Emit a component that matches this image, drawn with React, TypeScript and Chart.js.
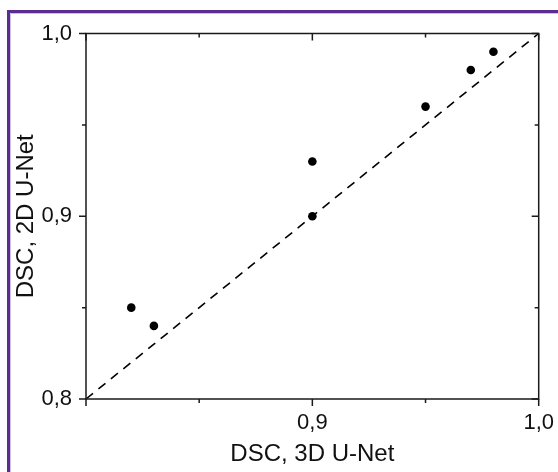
import React, { useEffect, useRef } from 'react';
import { Chart, registerables } from 'chart.js';

Chart.register(...registerables);

// Data
const xValues = [0.82, 0.83, 0.9, 0.9, 0.95, 0.97, 0.98]; // DSC, 3D U-Net
const yValues = [0.85, 0.84, 0.93, 0.9, 0.96, 0.98, 0.99]; // DSC, 2D U-Net
const identityLine = [0.8, 1.0];
const axisMin = 0.8;
const axisMax = 1.0;
const tickStep = 0.05;
const xTitle = 'DSC, 3D U-Net';
const yTitle = 'DSC, 2D U-Net';

const FONT = "'Liberation Sans', Arial, sans-serif";

const isMajor = (v: number) => Math.abs(v * 10 - Math.round(v * 10)) < 1e-6;
const fmt = (v: number) => (isMajor(v) ? v.toFixed(1).replace('.', ',') : '');

const framePlugin = {
  id: 'framePlugin',
  beforeDraw(chart: any) {
    const { ctx, width, height } = chart;
    ctx.save();
    ctx.fillStyle = '#ffffff';
    ctx.fillRect(0, 0, width, height);
    ctx.strokeStyle = '#5b2d8f';
    ctx.lineWidth = 3;
    ctx.beginPath();
    ctx.moveTo(8.5, height);
    ctx.lineTo(8.5, 11.5);
    ctx.lineTo(width, 11.5);
    ctx.stroke();
    ctx.strokeStyle = '#cdbfe0';
    ctx.lineWidth = 1;
    ctx.beginPath();
    ctx.moveTo(10.5, height);
    ctx.lineTo(10.5, 13.5);
    ctx.lineTo(width, 13.5);
    ctx.stroke();
    ctx.restore();
  },
  afterDraw(chart: any) {
    const { ctx, chartArea } = chart;
    const { left, right, top, bottom } = chartArea;
    const xs = chart.scales.x;
    const ys = chart.scales.y;
    ctx.save();
    ctx.strokeStyle = '#1a1a1a';
    ctx.lineWidth = 1.5;
    ctx.strokeRect(left, top, right - left, bottom - top);
    ctx.beginPath();
    xs.ticks.forEach((t: any) => {
      const px = xs.getPixelForValue(t.value);
      const major = isMajor(t.value);
      const len = major ? 7 : 4;
      ctx.moveTo(px, bottom);
      ctx.lineTo(px, bottom + len);
      ctx.moveTo(px, top);
      ctx.lineTo(px, top + len);
    });
    ys.ticks.forEach((t: any) => {
      const py = ys.getPixelForValue(t.value);
      const major = isMajor(t.value);
      const len = major ? 7 : 4;
      ctx.moveTo(left, py);
      ctx.lineTo(left - len, py);
      ctx.moveTo(right, py);
      ctx.lineTo(right - len, py);
    });
    ctx.stroke();
    ctx.restore();
  },
};

export default function App() {
  const ref = useRef<HTMLCanvasElement | null>(null);

  useEffect(() => {
    if (!ref.current) return;
    const points = xValues.map((x, i) => ({ x, y: yValues[i] }));
    const line = identityLine.map((v) => ({ x: v, y: v }));
    const chart = new Chart(ref.current, {
      type: 'scatter',
      data: {
        datasets: [
          {
            type: 'line',
            data: line,
            borderColor: '#000000',
            borderWidth: 1.6,
            borderDash: [9, 7],
            pointRadius: 0,
            fill: false,
            clip: false as any,
          },
          {
            type: 'scatter',
            data: points,
            backgroundColor: '#000000',
            borderColor: '#000000',
            pointRadius: 4.3,
            borderWidth: 0,
          },
        ],
      },
      options: {
        responsive: false,
        animation: false,
        layout: { padding: { left: 0, top: 33.5, right: 19.3, bottom: 0 } },
        plugins: { legend: { display: false }, tooltip: { enabled: false } },
        scales: {
          x: {
            type: 'linear',
            min: axisMin,
            max: axisMax,
            grid: { display: false, drawTicks: false },
            border: { display: false },
            ticks: {
              stepSize: tickStep,
              padding: 11,
              color: '#111111',
              font: { family: FONT, size: 22 },
              callback: (v: any) => (Number(v) <= axisMin + 1e-9 ? '' : fmt(Number(v))),
              autoSkip: false,
              maxRotation: 0,
            },
            title: {
              display: true,
              text: xTitle,
              color: '#111111',
              font: { family: FONT, size: 24 },
              padding: { top: 0, bottom: 3 },
            },
            afterFit: (s: any) => {
              s.height = 73;
              s.paddingLeft = 0;
              s.paddingRight = 0;
            },
          },
          y: {
            type: 'linear',
            min: axisMin,
            max: axisMax,
            grid: { display: false, drawTicks: false },
            border: { display: false },
            ticks: {
              stepSize: tickStep,
              padding: 14,
              color: '#111111',
              font: { family: FONT, size: 22 },
              callback: (v: any) => fmt(Number(v)),
              autoSkip: false,
            },
            title: {
              display: true,
              text: yTitle,
              color: '#111111',
              font: { family: FONT, size: 24 },
              padding: { top: 12, bottom: 0 },
            },
            afterFit: (s: any) => {
              s.width = 86;
              s.paddingTop = 0;
              s.paddingBottom = 0;
            },
          },
        },
      },
      plugins: [framePlugin],
    });
    return () => chart.destroy();
  }, []);

  return (
    <div style={{ position: 'fixed', left: 0, top: 0, width: 558, height: 472 }}>
      <canvas ref={ref} width={558} height={472} style={{ display: 'block' }} />
    </div>
  );
}
